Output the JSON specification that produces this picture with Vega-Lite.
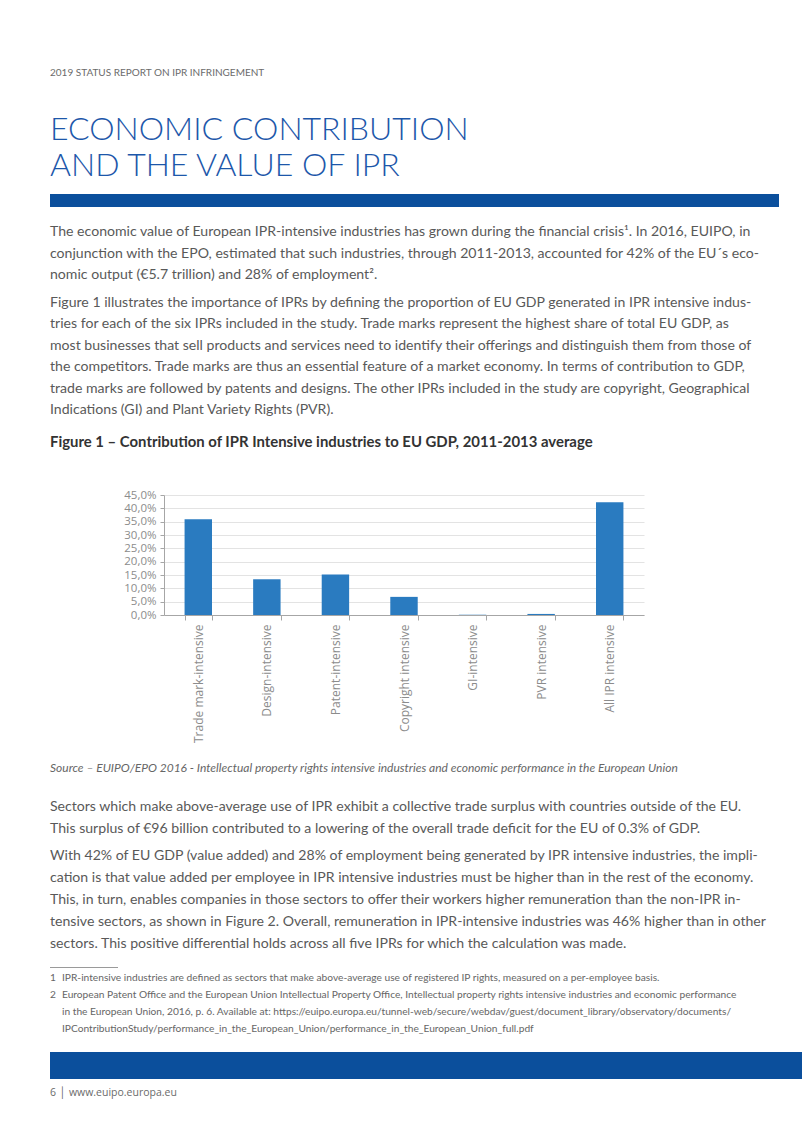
{
  "$schema": "https://vega.github.io/schema/vega-lite/v6.json",
  "background": "white",
  "padding": {"left": 50, "top": 0, "right": 0, "bottom": 0},
  "spacing": 0,
  "config": {"view": {"stroke": null}, "concat": {"spacing": 0}},
  "vconcat": [
    {
      "width": 752, "height": 95,
      "data": {"values": [{"t": "2019 STATUS REPORT ON IPR INFRINGEMENT"}]},
      "mark": {"type": "text", "align": "left", "baseline": "middle", "font": "Lato", "fontSize": 10, "color": "#6b6b6b"},
      "encoding": {
        "x": {"datum": 0, "type": "quantitative", "scale": {"domain": [0, 1]}, "axis": null},
        "y": {"field": "t", "type": "nominal", "sort": null, "axis": null, "scale": {"type": "point", "padding": 0.5, "align": 0.765}},
        "text": {"field": "t"}
      }
    },
    {
      "width": 752, "height": 99,
      "data": {"values": [{"t": "ECONOMIC CONTRIBUTION"}, {"t": "AND THE VALUE OF IPR"}]},
      "mark": {"type": "text", "align": "left", "baseline": "middle", "font": "Lato", "fontWeight": 300, "fontSize": 32, "color": "#1d57aa"},
      "encoding": {
        "x": {"datum": 0, "type": "quantitative", "scale": {"domain": [0, 1]}, "axis": null},
        "y": {"field": "t", "type": "nominal", "sort": null, "axis": null, "scale": {"type": "point", "padding": 0.88, "align": 0.56}},
        "text": {"field": "t"}
      }
    },
    {
      "width": 729, "height": 13,
      "view": {"fill": "#0b4f9c", "stroke": null},
      "data": {"values": [{"k": "band"}]},
      "mark": {"type": "rect", "color": "#0b4f9c"},
      "encoding": {}
    },
    {
      "width": 752, "height": 81,
      "data": {"values": [
        {"t": "The economic value of European IPR-intensive industries has grown during the financial crisis¹. In 2016, EUIPO, in"},
        {"t": "conjunction with the EPO, estimated that such industries, through 2011-2013, accounted for 42% of the EU´s eco-"},
        {"t": "nomic output (€5.7 trillion) and 28% of employment²."}
      ]},
      "mark": {"type": "text", "align": "left", "baseline": "middle", "font": "Lato", "fontSize": 14.1, "color": "#595959"},
      "encoding": {
        "x": {"datum": 0, "type": "quantitative", "scale": {"domain": [0, 1]}, "axis": null},
        "y": {"field": "t", "type": "nominal", "sort": null, "axis": null, "scale": {"type": "point", "padding": 0.871, "align": 0.66}},
        "text": {"field": "t"}
      }
    },
    {
      "width": 752, "height": 137,
      "data": {"values": [
        {"t": "Figure 1 illustrates the importance of IPRs by defining the proportion of EU GDP generated in IPR intensive indus-"},
        {"t": "tries for each of the six IPRs included in the study. Trade marks represent the highest share of total EU GDP, as"},
        {"t": "most businesses that sell products and services need to identify their offerings and distinguish them from those of"},
        {"t": "the competitors. Trade marks are thus an essential feature of a market economy. In terms of contribution to GDP,"},
        {"t": "trade marks are followed by patents and designs. The other IPRs included in the study are copyright, Geographical"},
        {"t": "Indications (GI) and Plant Variety Rights (PVR)."}
      ]},
      "mark": {"type": "text", "align": "left", "baseline": "middle", "font": "Lato", "fontSize": 14.1, "color": "#595959"},
      "encoding": {
        "x": {"datum": 0, "type": "quantitative", "scale": {"domain": [0, 1]}, "axis": null},
        "y": {"field": "t", "type": "nominal", "sort": null, "axis": null, "scale": {"type": "point", "padding": 0.701, "align": 0.5}},
        "text": {"field": "t"}
      }
    },
    {
      "width": 752, "height": 63.5,
      "data": {"values": [{"t": "Figure 1 – Contribution of IPR Intensive industries to EU GDP, 2011-2013 average"}]},
      "mark": {"type": "text", "align": "left", "baseline": "middle", "font": "Lato", "fontWeight": "bold", "fontSize": 14.9, "color": "#333333"},
      "encoding": {
        "x": {"datum": 0, "type": "quantitative", "scale": {"domain": [0, 1]}, "axis": null},
        "y": {"field": "t", "type": "nominal", "sort": null, "axis": null, "scale": {"type": "point", "padding": 0.5, "align": 0.29}},
        "text": {"field": "t"}
      }
    },
    {
      "hconcat": [
        {
          "width": 1, "height": 120,
          "data": {"values": [{"k": "spacer"}]},
          "mark": {"type": "rect", "color": "#ffffff", "opacity": 0},
          "encoding": {}
        },
        {
          "width": 480, "height": 120,
          "data": {"values": [
            {"category": "Trade mark-intensive", "share": 35.9},
            {"category": "Design-intensive", "share": 13.4},
            {"category": "Patent-intensive", "share": 15.2},
            {"category": "Copyright intensive", "share": 6.8},
            {"category": "GI-intensive", "share": 0.1},
            {"category": "PVR intensive", "share": 0.4},
            {"category": "All IPR intensive", "share": 42.3}
          ]},
          "mark": {"type": "bar", "color": "#2a7bc0"},
          "encoding": {
            "x": {"field": "category", "type": "nominal", "sort": null,
                  "scale": {"paddingInner": 0.6, "paddingOuter": 0.3},
                  "axis": {"title": null, "labelAngle": -90, "labelFont": "Open Sans", "labelFontSize": 12, "labelColor": "#8c8c8c",
                           "domainColor": "#a6a6a6", "tickColor": "#a6a6a6", "tickSize": 5, "tickBand": "extent", "labelPadding": 4,
                           "minExtent": 140}},
            "y": {"field": "share", "type": "quantitative",
                  "scale": {"domain": [0, 45], "nice": false},
                  "axis": {"title": null, "values": [0, 5, 10, 15, 20, 25, 30, 35, 40, 45],
                           "labelExpr": "replace(format(datum.value, '.1f'), '.', ',') + '%'",
                           "labelFont": "Open Sans", "labelFontSize": 11.5, "labelColor": "#8c8c8c",
                           "domain": true, "domainColor": "#a6a6a6", "tickColor": "#a6a6a6", "tickSize": 4, "labelPadding": 4,
                           "gridColor": "#e3e3e3", "minExtent": 112.5}}
          }
        }
      ]
    },
    {
      "width": 752, "height": 32.5,
      "data": {"values": [{"t": "Source – EUIPO/EPO 2016 - Intellectual property rights intensive industries and economic performance in the European Union"}]},
      "mark": {"type": "text", "align": "left", "baseline": "middle", "font": "Lato", "fontStyle": "italic", "fontSize": 12, "color": "#666666"},
      "encoding": {
        "x": {"datum": 0, "type": "quantitative", "scale": {"domain": [0, 1]}, "axis": null},
        "y": {"field": "t", "type": "nominal", "sort": null, "axis": null, "scale": {"type": "point", "padding": 0.5, "align": 0.394}},
        "text": {"field": "t"}
      }
    },
    {
      "width": 752, "height": 51,
      "data": {"values": [
        {"t": "Sectors which make above-average use of IPR exhibit a collective trade surplus with countries outside of the EU."},
        {"t": "This surplus of €96 billion contributed to a lowering of the overall trade deficit for the EU of 0.3% of GDP."}
      ]},
      "mark": {"type": "text", "align": "left", "baseline": "middle", "font": "Lato", "fontSize": 14.1, "color": "#595959"},
      "encoding": {
        "x": {"datum": 0, "type": "quantitative", "scale": {"domain": [0, 1]}, "axis": null},
        "y": {"field": "t", "type": "nominal", "sort": null, "axis": null, "scale": {"type": "point", "padding": 0.686, "align": 0.66}},
        "text": {"field": "t"}
      }
    },
    {
      "width": 752, "height": 128,
      "data": {"values": [
        {"t": "With 42% of EU GDP (value added) and 28% of employment being generated by IPR intensive industries, the impli-"},
        {"t": "cation is that value added per employee in IPR intensive industries must be higher than in the rest of the economy."},
        {"t": "This, in turn, enables companies in those sectors to offer their workers higher remuneration than the non-IPR in-"},
        {"t": "tensive sectors, as shown in Figure 2. Overall, remuneration in IPR-intensive industries was 46% higher than in other"},
        {"t": "sectors. This positive differential holds across all five IPRs for which the calculation was made."}
      ]},
      "mark": {"type": "text", "align": "left", "baseline": "middle", "font": "Lato", "fontSize": 14.1, "color": "#595959"},
      "encoding": {
        "x": {"datum": 0, "type": "quantitative", "scale": {"domain": [0, 1]}, "axis": null},
        "y": {"field": "t", "type": "nominal", "sort": null, "axis": null, "scale": {"type": "point", "padding": 0.922, "align": 0.43}},
        "text": {"field": "t"}
      }
    },
    {
      "width": 68, "height": 1,
      "view": {"fill": "#9a9a9a", "stroke": null},
      "data": {"values": [{"k": "rule"}]},
      "mark": {"type": "rect", "color": "#9a9a9a"},
      "encoding": {}
    },
    {
      "width": 752, "height": 84,
      "data": {"values": [
        {"n": "1", "t": "IPR-intensive industries are defined as sectors that make above-average use of registered IP rights, measured on a per-employee basis."},
        {"n": "2", "t": "European Patent Office and the European Union Intellectual Property Office, Intellectual property rights intensive industries and economic performance"},
        {"n": "", "t": "in the European Union, 2016, p. 6. Available at: https://euipo.europa.eu/tunnel-web/secure/webdav/guest/document_library/observatory/documents/"},
        {"n": "", "t": "IPContributionStudy/performance_in_the_European_Union/performance_in_the_European_Union_full.pdf"}
      ]},
      "encoding": {
        "y": {"field": "t", "type": "nominal", "sort": null, "axis": null, "scale": {"type": "point", "padding": 1.158, "align": 0.309}}
      },
      "layer": [
        {
          "mark": {"type": "text", "align": "left", "baseline": "middle", "font": "Lato", "fontSize": 10.2, "color": "#666666"},
          "encoding": {
            "x": {"datum": 0, "type": "quantitative", "scale": {"domain": [0, 752]}, "axis": null},
            "text": {"field": "n"}
          }
        },
        {
          "mark": {"type": "text", "align": "left", "baseline": "middle", "font": "Lato", "fontSize": 10.2, "color": "#666666"},
          "encoding": {
            "x": {"datum": 12, "type": "quantitative", "scale": {"domain": [0, 752]}, "axis": null},
            "text": {"field": "t"}
          }
        }
      ]
    },
    {
      "width": 752, "height": 27,
      "view": {"fill": "#0b4f9c", "stroke": null},
      "data": {"values": [{"k": "band"}]},
      "mark": {"type": "rect", "color": "#0b4f9c"},
      "encoding": {}
    },
    {
      "width": 752, "height": 55,
      "data": {"values": [{"t": "6 │   www.euipo.europa.eu"}]},
      "mark": {"type": "text", "align": "left", "baseline": "middle", "font": "Open Sans", "fontSize": 10.5, "color": "#6b6b6b"},
      "encoding": {
        "x": {"datum": 0, "type": "quantitative", "scale": {"domain": [0, 1]}, "axis": null},
        "y": {"field": "t", "type": "nominal", "sort": null, "axis": null, "scale": {"type": "point", "padding": 0.5, "align": 0.249}},
        "text": {"field": "t"}
      }
    }
  ]
}
